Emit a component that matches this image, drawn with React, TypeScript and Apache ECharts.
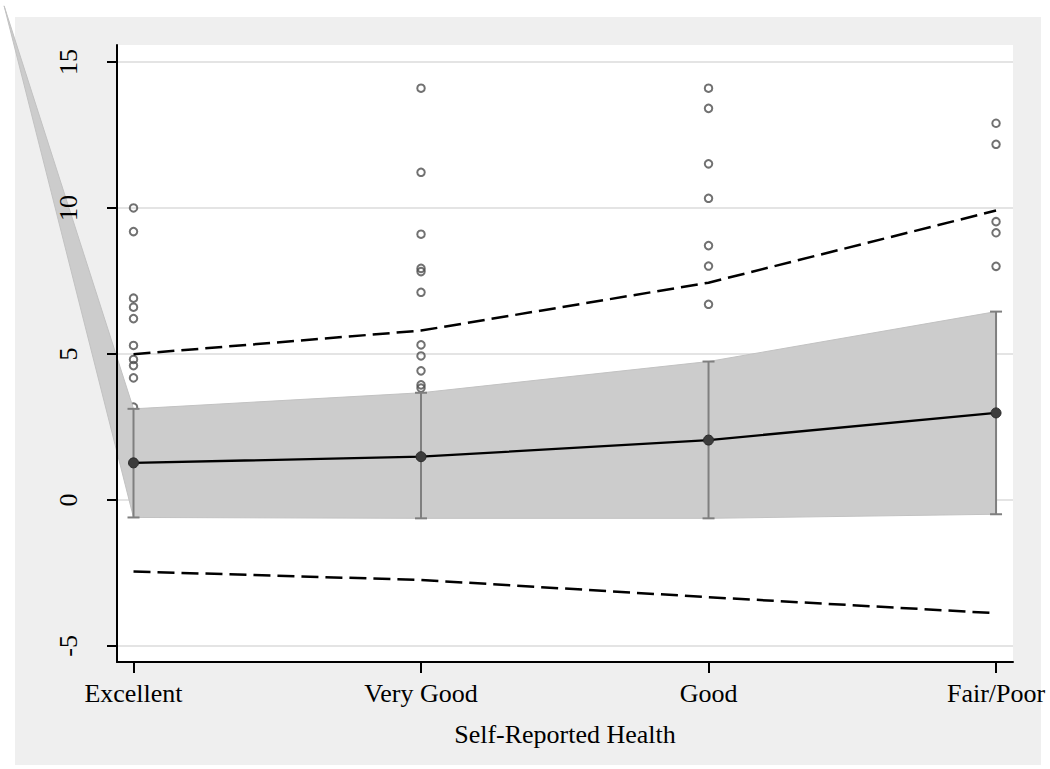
import React, { useEffect, useRef } from "react";
import * as echarts from "echarts";

// ---- data ----
const categories = ["Excellent", "Very Good", "Good", "Fair/Poor"];
const categoryPos = [1, 2, 3, 4];
const yTicks = [-5, 0, 5, 10, 15];

const meanValues = [1.27, 1.48, 2.05, 2.98];
const ciLow = [-0.6, -0.63, -0.63, -0.49];
const ciHigh = [3.12, 3.67, 4.74, 6.45];
const upperDashed = [4.99, 5.8, 7.44, 9.91];
const lowerDashed = [-2.45, -2.74, -3.33, -3.88];
// stray vertex of the shaded band (the wedge at top-left)
const strayVertex = [0.55, 16.92];

const excellentPts = [10.0, 9.19, 6.91, 6.6, 6.21, 5.29, 4.81, 4.6, 4.18, 3.18];
const veryGoodPts = [14.1, 11.22, 9.1, 7.93, 7.82, 7.11, 5.31, 4.93, 4.42, 3.94, 3.83];
const goodPts = [14.1, 13.41, 11.51, 10.33, 8.71, 8.01, 6.7];
const fairPoorPts = [12.9, 12.18, 9.53, 9.15, 8.0];

const FONT = '"Liberation Serif", "Times New Roman", Times, serif';

export default function App() {
  const ref = useRef<HTMLDivElement>(null);

  useEffect(() => {
    if (!ref.current) return;
    const chart = echarts.init(ref.current, null, { renderer: "svg" });

    const scatterData = [excellentPts, veryGoodPts, goodPts, fairPoorPts].flatMap(
      (arr, i) => arr.map((v) => [categoryPos[i], v])
    );
    const bandPts = [
      strayVertex,
      ...categoryPos.map((x, i) => [x, ciHigh[i]]),
      ...categoryPos.map((x, i) => [x, ciLow[i]]).reverse(),
    ];
    const isInt = (v: number) => Math.abs(v - Math.round(v)) < 1e-6;

    chart.setOption({
      animation: false,
      backgroundColor: "#ffffff",
      graphic: [
        {
          type: "rect",
          z: -100,
          silent: true,
          shape: { x: 15, y: 17, width: 1026, height: 748 },
          style: { fill: "#efefef" },
        },
      ],
      grid: {
        left: 117,
        right: 37,
        top: 45,
        bottom: 107,
        show: true,
        backgroundColor: "#ffffff",
        borderWidth: 0,
      },
      xAxis: {
        type: "value",
        min: 0.9426,
        max: 4.059,
        z: 20,
        axisLine: { onZero: false, lineStyle: { color: "#000", width: 2 } },
        axisTick: { customValues: categoryPos, length: 11, lineStyle: { color: "#000", width: 2 } },
        axisLabel: {
          customValues: categoryPos,
          formatter: (v: number) => (isInt(v) ? categories[Math.round(v) - 1] ?? "" : ""),
          margin: 18,
          color: "#000",
          fontSize: 26,
          fontFamily: FONT,
        },
        splitLine: { show: false },
        name: "Self-Reported Health",
        nameLocation: "middle",
        nameGap: 59,
        nameTextStyle: { color: "#000", fontSize: 26, fontFamily: FONT },
      },
      yAxis: {
        type: "value",
        min: -5.55,
        max: 15.58,
        z: 20,
        axisLine: { show: true, onZero: false, lineStyle: { color: "#000", width: 2 } },
        axisTick: { show: true, customValues: yTicks, length: 10, lineStyle: { color: "#000", width: 2 } },
        axisLabel: {
          customValues: yTicks,
          rotate: 90,
          margin: 36,
          color: "#000",
          fontSize: 26,
          fontFamily: FONT,
        },
        splitLine: { show: false },
      },
      series: [
        {
          type: "custom",
          name: "grid",
          z: 1,
          silent: true,
          data: yTicks.map((v) => [1, v]),
          renderItem: (params: any, api: any) => {
            const cs = params.coordSys;
            const y = api.coord([1, api.value(1)])[1];
            return {
              type: "line",
              shape: { x1: cs.x, y1: y, x2: cs.x + cs.width, y2: y },
              style: { stroke: "#e4e4e4", lineWidth: 2 },
            };
          },
        },
        {
          type: "scatter",
          name: "obs",
          z: 2,
          symbol: "circle",
          symbolSize: 7.5,
          itemStyle: { color: "rgba(0,0,0,0)", borderColor: "#4d4d4d", borderWidth: 2 },
          data: scatterData,
        },
        {
          type: "custom",
          name: "band",
          z: 3,
          clip: false,
          silent: true,
          data: [[1, 0]],
          renderItem: (_params: any, api: any) => ({
            type: "polygon",
            shape: { points: bandPts.map((p) => api.coord(p)) },
            style: { fill: "#cccccc", stroke: "#c2c2c2", lineWidth: 1 },
          }),
        },
        {
          type: "custom",
          name: "ci",
          z: 4,
          silent: true,
          data: categoryPos.map((x, i) => [x, ciLow[i], ciHigh[i]]),
          encode: { x: 0, y: [1, 2] },
          renderItem: (_params: any, api: any) => {
            const x = api.value(0);
            const lo = api.coord([x, api.value(1)]);
            const hi = api.coord([x, api.value(2)]);
            const w = 6;
            const style = { stroke: "#7f7f7f", lineWidth: 2 };
            return {
              type: "group",
              children: [
                { type: "line", shape: { x1: lo[0], y1: lo[1], x2: hi[0], y2: hi[1] }, style },
                { type: "line", shape: { x1: lo[0] - w, y1: lo[1], x2: lo[0] + w, y2: lo[1] }, style },
                { type: "line", shape: { x1: hi[0] - w, y1: hi[1], x2: hi[0] + w, y2: hi[1] }, style },
              ],
            };
          },
        },
        {
          type: "line",
          name: "mean",
          z: 5,
          symbol: "circle",
          symbolSize: 10,
          showSymbol: true,
          itemStyle: { color: "#3c3c3c", borderColor: "#2a2a2a", borderWidth: 1 },
          lineStyle: { color: "#000", width: 2.3 },
          data: categoryPos.map((x, i) => [x, meanValues[i]]),
        },
        {
          type: "line",
          name: "upper",
          z: 6,
          symbol: "none",
          lineStyle: { color: "#000", width: 2.5, type: [17, 7] },
          data: categoryPos.map((x, i) => [x, upperDashed[i]]),
        },
        {
          type: "line",
          name: "lower",
          z: 6,
          symbol: "none",
          lineStyle: { color: "#000", width: 2.5, type: [17, 7] },
          data: categoryPos.map((x, i) => [x, lowerDashed[i]]),
        },
      ],
    });

    return () => chart.dispose();
  }, []);

  return (
    <div
      ref={ref}
      style={{ position: "absolute", left: 0, top: 0, width: 1050, height: 769 }}
    />
  );
}
